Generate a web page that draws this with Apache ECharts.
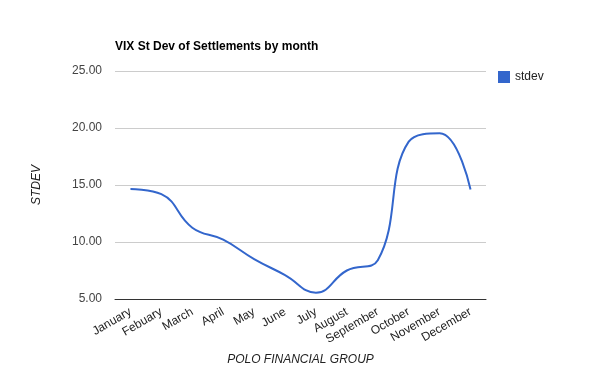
<!DOCTYPE html>
<html><head><meta charset="utf-8">
<script src="https://cdn.jsdelivr.net/npm/echarts@6/dist/echarts.min.js"></script>
<style>html,body{margin:0;padding:0;background:#fff}#c{width:600px;height:371px}</style>
</head><body><div id="c"></div>
<script>
const categories = ['January','Febuary','March','April','May','June','July','August','September','October','November','December'];
const stdevValues = [14.65, 14.2, 11.25, 10.2, 8.5, 7.1, 5.55, 7.5, 8.4, 18.8, 19.55, 14.6];
const yTicks = [5, 10, 15, 20, 25];
const FONT = '"Liberation Sans", Arial, sans-serif';
const chart = echarts.init(document.getElementById('c'), null, {renderer: 'canvas'});
chart.setOption({
  animation: false,
  title: {text: 'VIX St Dev of Settlements by month', left: 115, top: 41, padding: 0,
    textStyle: {fontFamily: FONT, fontSize: 12, fontWeight: 'bold', color: '#000'}},
  legend: {data: ['stdev'], left: 498, top: 71, padding: 0, orient: 'vertical', icon: 'rect',
    itemWidth: 12, itemHeight: 12, itemGap: 6,
    textStyle: {fontFamily: FONT, fontSize: 12, color: '#222'}},
  grid: {left: 115, right: 114, top: 71, bottom: 72, outerBoundsMode: 'none', containLabel: false},
  xAxis: {type: 'category', data: categories, boundaryGap: true,
    name: 'POLO FINANCIAL GROUP', nameLocation: 'middle', nameGap: 55,
    nameTextStyle: {fontFamily: FONT, fontSize: 12, fontStyle: 'italic', color: '#222'},
    axisLine: {lineStyle: {color: '#333', width: 1}}, axisTick: {show: false},
    axisLabel: {rotate: 30, interval: 0, margin: 12, fontFamily: FONT, fontSize: 12, color: '#222'}},
  yAxis: {type: 'value', min: yTicks[0], max: yTicks[yTicks.length-1], interval: 5,
    name: 'STDEV', nameLocation: 'middle', nameGap: 72, nameRotate: 90,
    nameTextStyle: {fontFamily: FONT, fontSize: 12, fontStyle: 'italic', color: '#222'},
    axisLine: {show: false}, axisTick: {show: false},
    axisLabel: {margin: 13, fontFamily: FONT, fontSize: 12, color: '#444', formatter: v => v.toFixed(2)},
    splitLine: {lineStyle: {color: '#ccc', width: 1}}},
  series: [{name: 'stdev', type: 'line', data: stdevValues, smooth: 0.45, symbol: 'none',
    lineStyle: {color: '#3366cc', width: 2}, itemStyle: {color: '#3366cc'}}]
});
</script></body></html>
